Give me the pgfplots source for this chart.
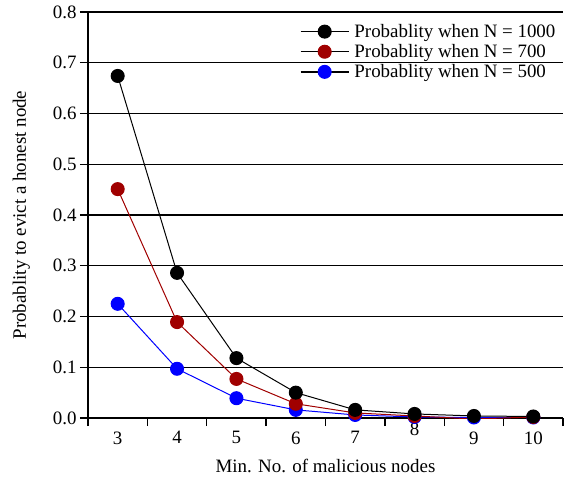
\documentclass[border=0pt]{standalone}
\usepackage{pgfplots}
\pgfplotsset{compat=1.18}
\usepackage{fontspec}
\setmainfont{Liberation Serif}
\definecolor{darkred}{RGB}{160,0,0}

\pgfplotstableread{
n   p1000  p700   p500
3   0.674  0.451  0.225
4   0.286  0.189  0.097
5   0.118  0.077  0.039
6   0.050  0.028  0.016
7   0.016  0.010  0.006
8   0.008  0.004  0.002
9   0.004  -0.002 0.001
10  0.003  0.002  0.001
}\evictdata

\begin{document}
\begin{tikzpicture}
\useasboundingbox (-88bp,-71bp) rectangle (481bp,418bp);
\begin{axis}[
    scale only axis,
    width=475bp, height=406bp,
    xmin=2.5, xmax=10.5,
    ymin=0, ymax=0.8,
    axis lines=left,
    axis line style={-, line width=1.3bp},
    tick align=outside,
    major tick length=8bp,
    tick style={black, line width=1.3bp},
    xtick={2.5,3.5,...,10.5},
    xticklabels={},
    extra x ticks={3,4,5,6,7,8,9,10},
    extra x tick labels={3,4,5,6,7,\raisebox{9bp}[\height][\depth]{8},9,10},
    extra x tick style={major tick length=0pt, grid=none},
    xticklabel style={yshift=-10bp},
    ytick={0,0.1,...,0.8},
    ymajorgrids=true,
    grid style={black, line width=1.2bp},
    yticklabel style={/pgf/number format/.cd, fixed, fixed zerofill, precision=1},
    /pgf/number format/assume math mode=true,
    every tick label/.append style={font=\fontsize{19}{21}\selectfont},
    label style={font=\fontsize{19}{21}\selectfont},
    xlabel={Min. No. of malicious nodes},
    xlabel style={yshift=0bp},
    ylabel={Probablity to evict a honest node},
    ylabel style={yshift=16bp},
    legend style={draw=none, fill=none, at={(0.995,0.98)}, anchor=north east,
        font=\fontsize{19}{20}\selectfont, row sep=1.5bp,
        /tikz/every odd column/.append style={column sep=3bp}},
    legend cell align=left,
    reverse legend,
    legend image code/.code={
        \draw[#1, black, mark=none, line width=1.5bp] (0bp,0bp) -- (48bp,0bp);
        \draw[#1] plot coordinates {(24bp,0bp)};
    },
    every axis plot/.append style={line width=1bp, mark=*, mark size=6.5bp},
]
\addplot[blue, mark options={fill=blue}] table[x=n, y=p500] {\evictdata};
\addplot[darkred, mark options={fill=darkred}] table[x=n, y=p700] {\evictdata};
\addplot[black, mark options={fill=black}] table[x=n, y=p1000] {\evictdata};
\legend{Probablity when N = 500, Probablity when N = 700, Probablity when N = 1000}
\end{axis}
\end{tikzpicture}
\end{document}
